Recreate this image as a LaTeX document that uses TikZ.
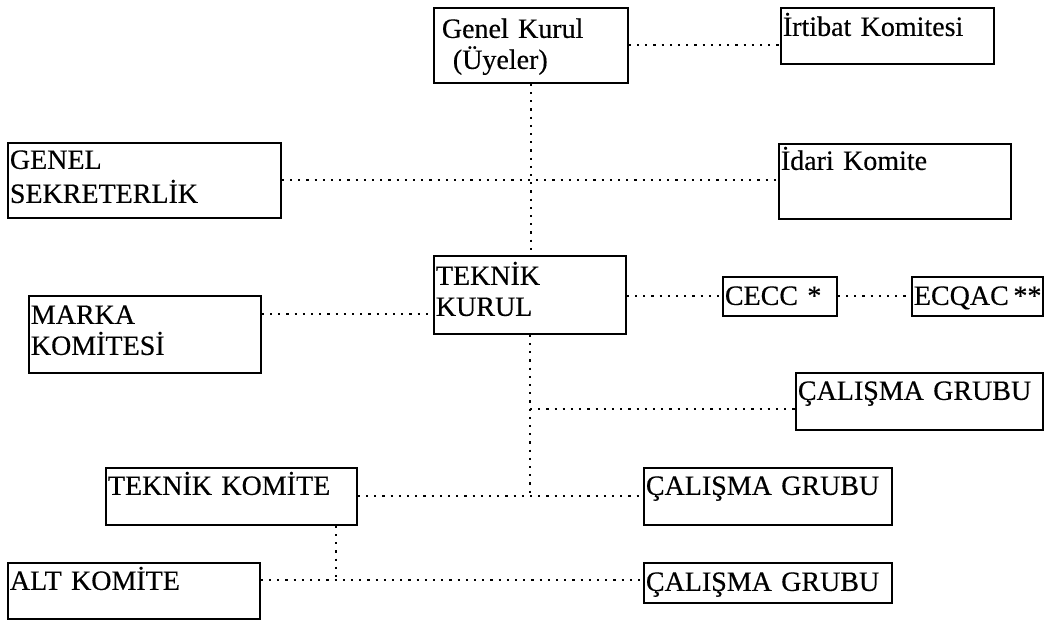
\documentclass[tikz,border=0pt]{standalone}
\usepackage{fontspec}
\setmainfont{Liberation Serif}
\newfontfamily\orgfont{Liberation Serif}[FakeBold=0.4]
\begin{document}
\begin{tikzpicture}[x=1pt,y=-1pt,
  orgbox/.style={draw, line width=1.8pt, anchor=north west, align=left,
    inner xsep=2pt, inner ysep=0pt, font=\orgfont\fontsize{28}{31}\selectfont},
  link/.style={line width=2pt, dash pattern=on 2.2pt off 6pt}]
\useasboundingbox (0,0) rectangle (1047,619);

% boxes: text sits at the top left of each frame
\node[orgbox, text width=190pt, text height=30pt, text depth=45pt] (gk) at (433,7)
  {\hspace*{6pt}Genel Kurul\\\hspace*{17pt}(Üyeler)};
\node[orgbox, text width=209pt, text height=28pt, text depth=28pt] (irt) at (780,7)
  {İrtibat Komitesi};
\node[orgbox, text width=269pt, text height=26pt, text depth=49pt] (gs) at (7,142)
  {GENEL\\[3pt]SEKRETERLİK};
\node[orgbox, text width=228pt, text height=26pt, text depth=49pt] (idari) at (778,143)
  {İdari Komite};
\node[orgbox, text width=188pt, text height=29pt, text depth=49pt] (tk) at (433,255)
  {TEKNİK\\KURUL};
\node[orgbox, text width=228pt, text height=28pt, text depth=49pt] (marka) at (28,295)
  {MARKA\\KOMİTESİ};
\node[orgbox, text width=110pt, text height=28pt, text depth=11pt] (cecc) at (722,276)
  {CECC *};
\node[orgbox, text width=127pt, text height=28pt, text depth=11pt] (ecqac) at (911,276)
  {ECQAC\,**};
\node[orgbox, text width=243pt, text height=27pt, text depth=30pt] (cg1) at (795,372)
  {ÇALIŞMA GRUBU};
\node[orgbox, text width=247pt, text height=27pt, text depth=30pt] (tkom) at (105,467)
  {TEKNİK KOMİTE};
\node[orgbox, text width=244pt, text height=27pt, text depth=30pt] (cg2) at (643,467)
  {ÇALIŞMA GRUBU};
\node[orgbox, text width=248pt, text height=27pt, text depth=29pt] (alt) at (7,562)
  {ALT KOMİTE};
\node[orgbox, text width=244pt, text height=28pt, text depth=12pt] (cg3) at (643,562)
  {ÇALIŞMA GRUBU};

% dotted connectors
\draw[link] (gk.east) -- (gk.east -| irt.west);
\draw[link] (gk.south) -- (gk.south |- tk.north);
\draw[link] (gs.east) -- (gs.east -| idari.west);
\draw[link] (marka.east |- 0,314) -- (tk.west |- 0,314);
\draw[link] (tk.east |- cecc.west) -- (cecc.west);
\draw[link] (cecc.east) -- (ecqac.west);
\coordinate (j1) at (tk.south |- tkom.east);
\draw[link] (tk.south) -- (j1);
\draw[link] (tk.south |- 0,409) -- (cg1.west |- 0,409);
\draw[link] (tkom.east) -- (tkom.east -| cg2.west);
\coordinate (j2) at (336,580);
\draw[link] (j2 |- tkom.south) -- (j2);
\draw[link] (alt.east |- j2) -- (cg3.west |- j2);
\end{tikzpicture}
\end{document}
